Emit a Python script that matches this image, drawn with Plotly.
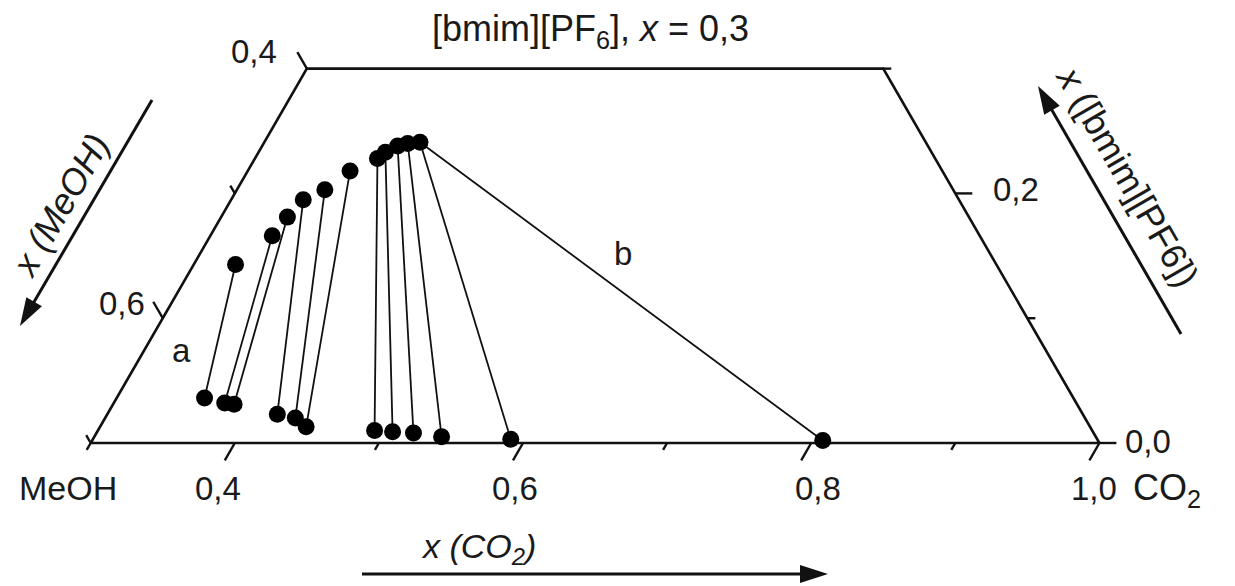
import math
import plotly.graph_objects as go

# Tie-line end points (mole fractions) for MeOH + CO2 + [bmim][PF6]
# IL-rich phase
upper_co2 = [0.329, 0.343, 0.346, 0.350, 0.361, 0.371, 0.385, 0.388, 0.394, 0.400, 0.408]
upper_bmim = [0.143, 0.166, 0.181, 0.195, 0.203, 0.218, 0.228, 0.233, 0.238, 0.240, 0.241]
# IL-poor phase
lower_co2 = [0.361, 0.377, 0.384, 0.418, 0.432, 0.443, 0.492, 0.505, 0.520, 0.541, 0.590, 0.807]
lower_bmim = [0.036, 0.032, 0.031, 0.023, 0.020, 0.013, 0.010, 0.009, 0.008, 0.005, 0.003, 0.002]
# index of the IL-rich partner of every IL-poor point
tie_partner = [0, 1, 2, 3, 4, 5, 6, 7, 8, 9, 10, 10]

# axis ticks
co2_ticks = [0.3, 0.4, 0.5, 0.6, 0.7, 0.8, 0.9, 1.0]
co2_labels = {0.4: "0,4", 0.6: "0,6", 0.8: "0,8", 1.0: "1,0"}
meoh_ticks = [0.7, 0.6, 0.5, 0.4]
meoh_labels = {0.6: "0,6", 0.4: "0,4"}
bmim_ticks = [0.0, 0.1, 0.2, 0.3]
bmim_labels = {0.0: "0,0", 0.2: "0,2"}

W, H = 1235, 586
S = 1441.0          # pixels per unit mole fraction
SQ = math.sqrt(3) / 2
FONT = "Liberation Sans, Arial, sans-serif"
FS = 33


def tern(co2, bm):
    """Ternary composition -> cartesian (equilateral triangle)."""
    return co2 + bm / 2.0, bm * SQ


def pp(x, y):
    """Pixel position -> paper coordinates."""
    return x / W, 1 - y / H


fig = go.Figure()

# trapezoid frame: x(bmim) from 0 to 0.3, x(CO2) >= 0.3
frame = [(0.3, 0.0), (1.0, 0.0), (0.7, 0.3), (0.3, 0.3), (0.3, 0.0)]
fx, fy = zip(*[tern(c, b) for c, b in frame])
fig.add_trace(go.Scatter(x=fx, y=fy, mode="lines",
                         line=dict(color="#111", width=2.6), hoverinfo="skip"))

# tick marks
tx, ty = [], []


def tick(c, b, d, length):
    x0, y0 = tern(c, b)
    tx.extend([x0, x0 + d[0] * length / S, None])
    ty.extend([y0, y0 + d[1] * length / S, None])


for c in co2_ticks:
    tick(c, 0.0, (-0.5, -SQ), 20 if c in co2_labels else 8)
for m in meoh_ticks:
    tick(0.3, 0.7 - m, (-0.5, SQ), 19 if m in meoh_labels else 9)
for b in bmim_ticks:
    tick(1.0 - b, b, (1.0, 0.0), 17 if b in bmim_labels else 8)

fig.add_trace(go.Scatter(x=tx, y=ty, mode="lines",
                         line=dict(color="#111", width=2.4), hoverinfo="skip"))

# tie lines
lx, ly = [], []
for i, j in enumerate(tie_partner):
    x0, y0 = tern(upper_co2[j], upper_bmim[j])
    x1, y1 = tern(lower_co2[i], lower_bmim[i])
    lx.extend([x0, x1, None])
    ly.extend([y0, y1, None])
fig.add_trace(go.Scatter(x=lx, y=ly, mode="lines",
                         line=dict(color="#111", width=1.8), hoverinfo="skip"))

# phase compositions
px_, py_ = zip(*[tern(c, b) for c, b in zip(upper_co2 + lower_co2, upper_bmim + lower_bmim)])
fig.add_trace(go.Scatter(x=px_, y=py_, mode="markers",
                         marker=dict(color="black", size=17, line=dict(width=0)),
                         hoverinfo="skip"))

# texts
ann = []


def text(s, x, y, angle=0, anchor="center", size=FS):
    a, b = pp(x, y)
    ann.append(dict(text=s, x=a, y=b, xref="paper", yref="paper", showarrow=False,
                    xanchor=anchor, yanchor="middle", textangle=angle,
                    font=dict(family=FONT, size=size, color="#1a1a1a")))


text("[bmim][PF<sub>6</sub>], <i>x</i> = 0,3", 590, 31, size=36)
text("0,4", 254, 52)
text("0,6", 122, 304)
text("0,2", 1016, 190)
text("0,0", 1148, 441)
bottom_label_px = {0.4: 218, 0.6: 515, 0.8: 818, 1.0: 1094}
for v, s in co2_labels.items():
    text(s, bottom_label_px[v], 488)
text("MeOH", 68, 488, size=34)
text("CO<sub>2</sub>", 1131, 490, anchor="left", size=36)
text("a", 182, 350)
text("b", 623, 253)
text("<i>x (CO<sub>2</sub>)</i>", 478, 548, size=34)
text("<i>x (MeOH)</i>", 60, 205, angle=-60, size=36)
text("<i>x</i> ([bmim][PF6])", 1128, 176, angle=60, size=36)

# direction arrows
shapes = []


def arrow(tail, tip, head=28, half=9):
    ux, uy = tip[0] - tail[0], tip[1] - tail[1]
    n = math.hypot(ux, uy)
    ux, uy = ux / n, uy / n
    bx, by = tip[0] - ux * head, tip[1] - uy * head
    nx, ny = -uy, ux
    a0 = pp(*tail)
    a1 = pp(bx + ux * 2, by + uy * 2)
    shapes.append(dict(type="line", xref="paper", yref="paper",
                       x0=a0[0], y0=a0[1], x1=a1[0], y1=a1[1],
                       line=dict(color="#111", width=3)))
    p1 = pp(*tip)
    p2 = pp(bx + nx * half, by + ny * half)
    p3 = pp(bx - nx * half, by - ny * half)
    shapes.append(dict(type="path", xref="paper", yref="paper",
                       path=f"M {p1[0]} {p1[1]} L {p2[0]} {p2[1]} L {p3[0]} {p3[1]} Z",
                       fillcolor="#111", line=dict(width=0)))


arrow((362, 574), (828, 574))
arrow((152, 100), (20, 326))
arrow((1181, 334), (1038, 86))

x_lo = 0.3 - 90.7 / S
y_lo = -(H - 443) / S
fig.update_layout(
    width=W, height=H, margin=dict(l=0, r=0, t=0, b=0),
    paper_bgcolor="white", plot_bgcolor="white", showlegend=False,
    xaxis=dict(range=[x_lo, x_lo + W / S], visible=False, fixedrange=True),
    yaxis=dict(range=[y_lo, y_lo + H / S], visible=False, fixedrange=True),
    annotations=ann, shapes=shapes,
)

fig.write_html("out.html")
